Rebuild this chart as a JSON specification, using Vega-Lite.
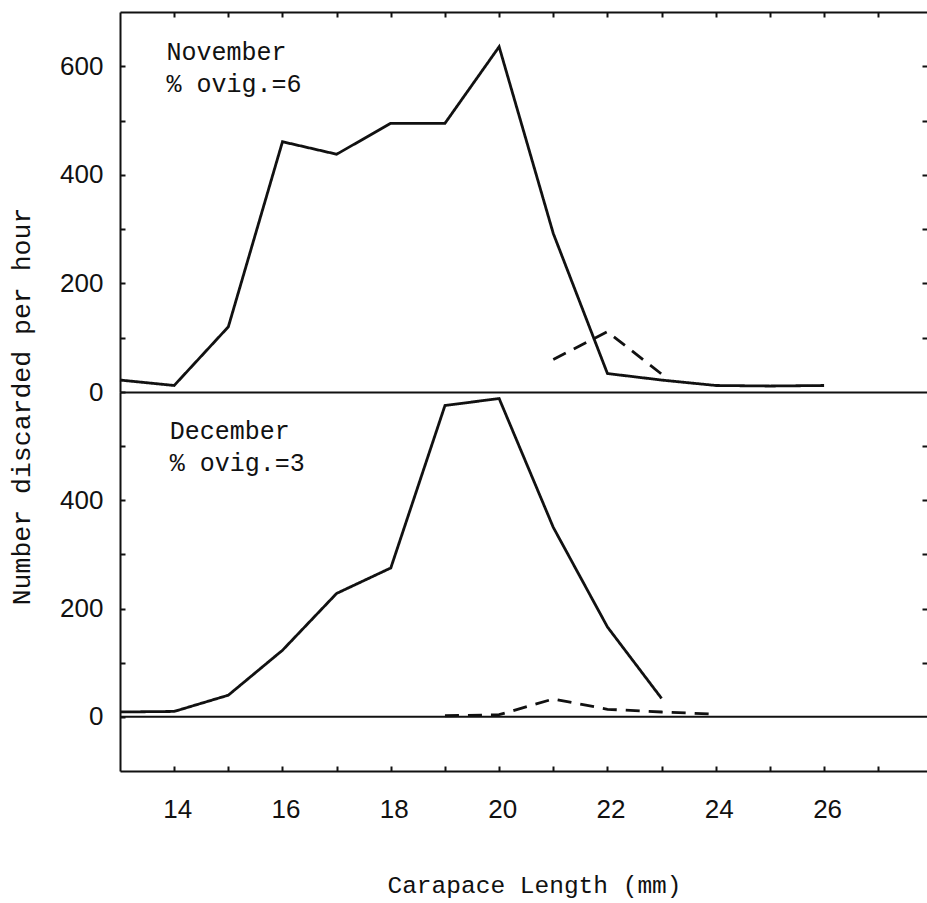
{
  "$schema": "https://vega.github.io/schema/vega-lite/v6.json",
  "padding": {"left": 8, "top": 11, "right": 0, "bottom": 6},
  "background": "white",
  "datasets": {
    "curves": [
      {"month": "November", "kind": "Total", "length": 13, "count": 22},
      {"month": "November", "kind": "Total", "length": 14, "count": 12},
      {"month": "November", "kind": "Total", "length": 15, "count": 120},
      {"month": "November", "kind": "Total", "length": 16, "count": 461},
      {"month": "November", "kind": "Total", "length": 17, "count": 438},
      {"month": "November", "kind": "Total", "length": 18, "count": 495},
      {"month": "November", "kind": "Total", "length": 19, "count": 495},
      {"month": "November", "kind": "Total", "length": 20, "count": 636},
      {"month": "November", "kind": "Total", "length": 21, "count": 292},
      {"month": "November", "kind": "Total", "length": 22, "count": 34},
      {"month": "November", "kind": "Total", "length": 23, "count": 22},
      {"month": "November", "kind": "Total", "length": 24, "count": 12},
      {"month": "November", "kind": "Total", "length": 25, "count": 11},
      {"month": "November", "kind": "Total", "length": 26, "count": 12},
      {"month": "November", "kind": "Ovigerous", "length": 21, "count": 60},
      {"month": "November", "kind": "Ovigerous", "length": 22, "count": 111},
      {"month": "November", "kind": "Ovigerous", "length": 23, "count": 33},
      {"month": "December", "kind": "Total", "length": 13, "count": 9},
      {"month": "December", "kind": "Total", "length": 14, "count": 10},
      {"month": "December", "kind": "Total", "length": 15, "count": 40},
      {"month": "December", "kind": "Total", "length": 16, "count": 123},
      {"month": "December", "kind": "Total", "length": 17, "count": 228},
      {"month": "December", "kind": "Total", "length": 18, "count": 275},
      {"month": "December", "kind": "Total", "length": 19, "count": 575},
      {"month": "December", "kind": "Total", "length": 20, "count": 588},
      {"month": "December", "kind": "Total", "length": 21, "count": 350},
      {"month": "December", "kind": "Total", "length": 22, "count": 166},
      {"month": "December", "kind": "Total", "length": 23, "count": 34},
      {"month": "December", "kind": "Ovigerous", "length": 19, "count": 2},
      {"month": "December", "kind": "Ovigerous", "length": 20, "count": 4},
      {"month": "December", "kind": "Ovigerous", "length": 21, "count": 33},
      {"month": "December", "kind": "Ovigerous", "length": 22, "count": 14},
      {"month": "December", "kind": "Ovigerous", "length": 23, "count": 9},
      {"month": "December", "kind": "Ovigerous", "length": 24, "count": 5}
    ],
    "notes": [
      {"month": "November", "label": "November\n% ovig.=6"},
      {"month": "December", "label": "December\n% ovig.=3"}
    ],
    "baseline": [
      {"level": 0}
    ]
  },
  "vconcat": [
    {
      "width": 807,
      "height": 380,
      "layer": [
        {
          "data": {"name": "curves"},
          "transform": [{"filter": "datum.month === 'November'"}],
          "mark": {"type": "line", "color": "#111", "strokeWidth": 2.8},
          "encoding": {
            "x": {
              "field": "length", "type": "quantitative",
              "scale": {"domain": [13, 27.9], "nice": false, "zero": false},
              "axis": {"orient": "top", "values": [14,15,16,17,18,19,20,21,22,23,24,25,26,27], "labels": false, "title": null, "grid": false}
            },
            "y": {
              "field": "count", "type": "quantitative",
              "scale": {"domain": [0, 700], "nice": false},
              "axis": {
                "orient": "left", "values": [0,100,200,300,400,500,600], "grid": false,
                "labelExpr": "datum.value % 200 === 0 ? datum.label : ''",
                "title": "Number discarded per hour",
                "titleX": -112, "titleY": 394, "titleAngle": -90,
                "titleAlign": "center", "titleBaseline": "top", "titleFontSize": 26.5
              }
            },
            "strokeDash": {
              "field": "kind", "type": "nominal",
              "scale": {"domain": ["Total", "Ovigerous"], "range": [[1, 0], [14, 9]]},
              "legend": null
            }
          }
        },
        {
          "data": {"name": "notes"},
          "transform": [{"filter": "datum.month === 'November'"}],
          "mark": {"type": "text", "align": "left", "baseline": "top", "font": "Liberation Mono", "fontSize": 25, "lineHeight": 32, "lineBreak": "\n", "color": "#111"},
          "encoding": {
            "text": {"field": "label"},
            "x": {
              "datum": 13.86, "type": "quantitative",
              "scale": {"domain": [13, 27.9], "nice": false, "zero": false},
              "axis": {"orient": "bottom", "labels": false, "ticks": false, "title": null, "grid": false}
            },
            "y": {
              "datum": 648, "type": "quantitative",
              "scale": {"domain": [0, 700], "nice": false},
              "axis": {"orient": "right", "values": [100,200,300,400,500,600], "labels": false, "domain": false, "title": null, "grid": false}
            }
          }
        }
      ],
      "resolve": {"axis": {"x": "independent", "y": "independent"}}
    },
    {
      "width": 807,
      "height": 379,
      "layer": [
        {
          "data": {"name": "curves"},
          "transform": [{"filter": "datum.month === 'December'"}],
          "mark": {"type": "line", "color": "#111", "strokeWidth": 2.8},
          "encoding": {
            "x": {
              "field": "length", "type": "quantitative",
              "scale": {"domain": [13, 27.9], "nice": false, "zero": false},
              "axis": {
                "orient": "bottom", "values": [14,15,16,17,18,19,20,21,22,23,24,25,26,27], "grid": false,
                "labelExpr": "datum.value % 2 === 0 ? datum.label : ''",
                "labelPadding": 30, "labelOffset": 3,
                "title": "Carapace Length (mm)",
                "titleX": 414, "titleY": 121, "titleAlign": "center", "titleBaseline": "alphabetic",
                "titleFontSize": 24.5
              }
            },
            "y": {
              "field": "count", "type": "quantitative",
              "scale": {"domain": [-100, 600], "nice": false},
              "axis": {
                "orient": "left", "values": [0,100,200,300,400,500], "grid": false,
                "labelExpr": "datum.value % 200 === 0 ? datum.label : ''",
                "title": null
              }
            },
            "strokeDash": {
              "field": "kind", "type": "nominal",
              "scale": {"domain": ["Total", "Ovigerous"], "range": [[1, 0], [14, 9]]},
              "legend": null
            }
          }
        },
        {
          "data": {"name": "baseline"},
          "mark": {"type": "rule", "color": "#111", "strokeWidth": 2},
          "encoding": {
            "y": {"field": "level", "type": "quantitative", "scale": {"domain": [-100, 600], "nice": false}, "axis": null}
          }
        },
        {
          "data": {"name": "notes"},
          "transform": [{"filter": "datum.month === 'December'"}],
          "mark": {"type": "text", "align": "left", "baseline": "top", "font": "Liberation Mono", "fontSize": 25, "lineHeight": 32, "lineBreak": "\n", "color": "#111"},
          "encoding": {
            "text": {"field": "label"},
            "x": {
              "datum": 13.92, "type": "quantitative",
              "scale": {"domain": [13, 27.9], "nice": false, "zero": false},
              "axis": null
            },
            "y": {
              "datum": 550, "type": "quantitative",
              "scale": {"domain": [-100, 600], "nice": false},
              "axis": {"orient": "right", "values": [100,200,300,400,500], "labels": false, "domain": false, "title": null, "grid": false}
            }
          }
        }
      ],
      "resolve": {"axis": {"x": "independent", "y": "independent"}}
    }
  ],
  "spacing": 0,
  "bounds": "flush",
  "config": {
    "view": {"stroke": null},
    "axis": {
      "domainColor": "#111", "domainWidth": 2,
      "tickColor": "#111", "tickWidth": 2, "tickSize": -5,
      "labelFont": "Liberation Sans", "labelFontSize": 26, "labelColor": "#111",
      "labelPadding": 22,
      "titleFont": "Liberation Mono", "titleFontSize": 26, "titleFontWeight": "normal", "titleColor": "#111"
    }
  }
}
